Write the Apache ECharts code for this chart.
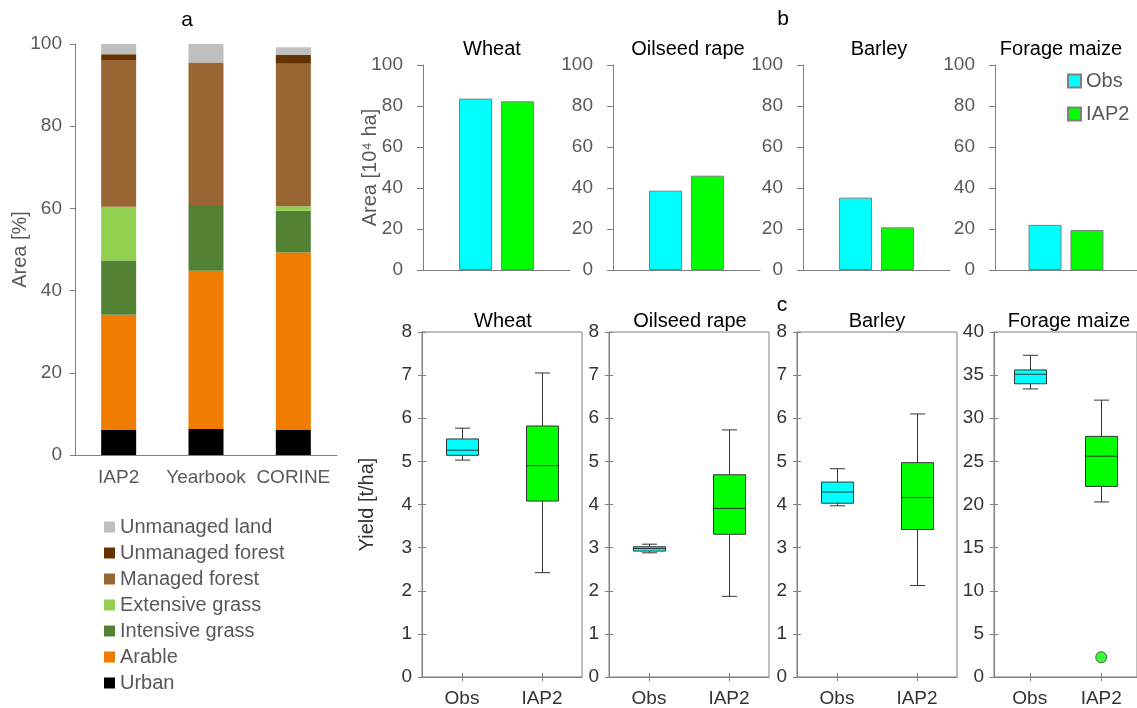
<!DOCTYPE html>
<html><head><meta charset="utf-8">
<script src="https://cdn.jsdelivr.net/npm/echarts@6/dist/echarts.min.js"></script>
<style>html,body{margin:0;padding:0;background:#fff}#c{width:1137px;height:708px}</style>
</head><body><div id="c"></div>
<script>
// ---- Panel a: land use shares (%) ----
const landCats = ['IAP2', 'Yearbook', 'CORINE'];
const urban = [6.1, 6.3, 6.1];
const arable = [28.0, 38.5, 43.2];
const intensiveGrass = [13.2, 16.0, 10.1];
const extensiveGrass = [13.1, 0, 1.1];
const managedForest = [35.7, 34.7, 34.7];
const unmanagedForest = [1.4, 0, 2.1];
const unmanagedLand = [2.5, 4.5, 1.9];

// ---- Panel b: crop area (10^4 ha) ----
const crops = ['Wheat', 'Oilseed rape', 'Barley', 'Forage maize'];
const areaObs = [83.6, 38.7, 35.3, 22.0];
const areaIAP2 = [82.3, 46.0, 20.8, 19.5];
const areaTicks = [0, 20, 40, 60, 80, 100];

// ---- Panel c: yield (t/ha) boxplots [min, Q1, median, Q3, max] ----
const yieldCats = ['Obs', 'IAP2'];
const yieldObs = [
  [5.03, 5.14, 5.26, 5.52, 5.77],
  [2.88, 2.92, 2.98, 3.02, 3.08],
  [3.97, 4.03, 4.29, 4.52, 4.83],
  [33.4, 34.0, 35.1, 35.6, 37.3]
];
const yieldIAP2 = [
  [2.42, 4.08, 4.90, 5.82, 7.05],
  [1.87, 3.31, 3.91, 4.69, 5.73],
  [2.12, 3.42, 4.16, 4.97, 6.10],
  [20.3, 22.1, 25.6, 27.9, 32.1]
];
const yieldMax = [8, 8, 8, 40];
const yieldInterval = [1, 1, 1, 5];
const maizeOutlierIAP2 = [2.29];

const FONT = 'Liberation Sans, Arial, sans-serif';
const GREY = '#808080';
const LABEL = '#595959';
const DARK = '#333333';
const CYAN = '#00FFFF', GREEN = '#00FF00';

const landSeries = [
  ['Urban', urban, '#000000'],
  ['Arable', arable, '#F07D02'],
  ['Intensive grass', intensiveGrass, '#548235'],
  ['Extensive grass', extensiveGrass, '#92D050'],
  ['Managed forest', managedForest, '#996633'],
  ['Unmanaged forest', unmanagedForest, '#663300'],
  ['Unmanaged land', unmanagedLand, '#BFBFBF']
];

const grid = [], xAxis = [], yAxis = [], series = [];

// Panel a
grid.push({left: 75, top: 44, width: 262, height: 411});
xAxis.push({gridIndex: 0, type: 'category', data: landCats,
  axisLine: {lineStyle: {color: GREY}}, axisTick: {show: false},
  axisLabel: {interval: 0, color: LABEL, fontSize: 19, margin: 13, fontFamily: FONT}});
yAxis.push({gridIndex: 0, type: 'value', min: 0, max: 100, interval: 20,
  name: 'Area [%]', nameLocation: 'middle', nameGap: 45, nameMoveOverlap: false,
  nameTextStyle: {fontSize: 20, color: LABEL, fontFamily: FONT},
  axisLine: {show: true, lineStyle: {color: GREY}},
  axisTick: {show: true, length: 5, lineStyle: {color: GREY}},
  axisLabel: {color: LABEL, fontSize: 19, margin: 13, fontFamily: FONT},
  splitLine: {show: false}});
landSeries.forEach(([name, data, color]) => {
  series.push({type: 'bar', name, stack: 'land', xAxisIndex: 0, yAxisIndex: 0,
    barWidth: 35, data, itemStyle: {color}, emphasis: {disabled: true}});
});

// Panel b
const bLeft = [423, 613, 803, 995];
crops.forEach((c, i) => {
  const gi = grid.length;
  grid.push({left: bLeft[i], top: 65, width: 147, height: 205});
  xAxis.push({gridIndex: gi, type: 'category', data: [''],
    axisLine: {lineStyle: {color: GREY}}, axisTick: {show: false}, axisLabel: {show: false}});
  yAxis.push({gridIndex: gi, type: 'value', min: areaTicks[0], max: areaTicks[areaTicks.length - 1], interval: 20,
    name: i === 0 ? 'Area [10\u2074 ha]' : '', nameLocation: 'middle', nameGap: 43, nameMoveOverlap: false,
    nameTextStyle: {fontSize: 20, color: LABEL, fontFamily: FONT},
    axisLine: {show: true, lineStyle: {color: GREY}},
    axisTick: {show: true, length: 6, lineStyle: {color: GREY}},
    axisLabel: {color: LABEL, fontSize: 19, margin: 20, fontFamily: FONT},
    splitLine: {show: false}});
  series.push({type: 'bar', name: 'Obs', xAxisIndex: gi, yAxisIndex: gi, barWidth: 33, barGap: '27%',
    data: [areaObs[i]], itemStyle: {color: CYAN, borderColor: '#7F7F7F', borderWidth: 1}});
  series.push({type: 'bar', name: 'IAP2', xAxisIndex: gi, yAxisIndex: gi, barWidth: 33, barGap: '27%',
    data: [areaIAP2[i]], itemStyle: {color: GREEN, borderColor: '#7F7F7F', borderWidth: 1}});
});

// Panel c
const cLeft = [422, 609, 797, 994];
const cWidth = [160, 160, 160, 150];
const cGridIdx = [];
crops.forEach((c, i) => {
  const gi = grid.length;
  cGridIdx.push(gi);
  grid.push({left: cLeft[i], top: 332, width: cWidth[i], height: 345,
    show: true, borderColor: GREY, borderWidth: 1, backgroundColor: 'transparent'});
  xAxis.push({gridIndex: gi, type: 'category', data: yieldCats,
    axisLine: {lineStyle: {color: GREY}},
    axisTick: {show: true, alignWithLabel: true, length: 4, lineStyle: {color: GREY}},
    axisLabel: {color: DARK, fontSize: 19, margin: 12, fontFamily: FONT}});
  yAxis.push({gridIndex: gi, type: 'value', min: 0, max: yieldMax[i], interval: yieldInterval[i],
    name: i === 0 ? 'Yield [t/ha]' : '', nameLocation: 'middle', nameGap: 45, nameMoveOverlap: false,
    nameTextStyle: {fontSize: 20, color: DARK, fontFamily: FONT},
    axisLine: {show: true, lineStyle: {color: GREY}},
    axisTick: {show: true, length: 4, lineStyle: {color: GREY}},
    axisLabel: {color: DARK, fontSize: 19, margin: 10, fontFamily: FONT},
    splitLine: {show: false}});
});
// inside tick duplicates (ticks cross the frame)
crops.forEach((c, i) => {
  const gi = cGridIdx[i];
  xAxis.push({gridIndex: gi, type: 'category', data: yieldCats, position: 'bottom',
    axisLine: {show: false}, axisLabel: {show: false},
    axisTick: {show: true, inside: true, alignWithLabel: true, length: 4, lineStyle: {color: GREY}}});
  yAxis.push({gridIndex: gi, type: 'value', min: 0, max: yieldMax[i], interval: yieldInterval[i], position: 'left',
    axisLine: {show: false}, axisLabel: {show: false}, splitLine: {show: false},
    axisTick: {show: true, inside: true, length: 4, lineStyle: {color: GREY}}});
});

function boxRender(color) {
  return function (params, api) {
    const x = api.value(0);
    const pMin = api.coord([x, api.value(1)]);
    const pQ1 = api.coord([x, api.value(2)]);
    const pMed = api.coord([x, api.value(3)]);
    const pQ3 = api.coord([x, api.value(4)]);
    const pMax = api.coord([x, api.value(5)]);
    const cx = Math.round(pMed[0]) + 0.5;
    const bw = 32, cw = 15;
    const ls = {stroke: DARK, lineWidth: 1};
    return {type: 'group', children: [
      {type: 'line', shape: {x1: cx, y1: pMax[1], x2: cx, y2: pQ3[1]}, style: ls},
      {type: 'line', shape: {x1: cx, y1: pQ1[1], x2: cx, y2: pMin[1]}, style: ls},
      {type: 'line', shape: {x1: cx - cw / 2, y1: pMax[1], x2: cx + cw / 2, y2: pMax[1]}, style: ls},
      {type: 'line', shape: {x1: cx - cw / 2, y1: pMin[1], x2: cx + cw / 2, y2: pMin[1]}, style: ls},
      {type: 'rect', shape: {x: cx - bw / 2, y: pQ3[1], width: bw, height: pQ1[1] - pQ3[1]},
        style: {fill: color, stroke: DARK, lineWidth: 1}},
      {type: 'line', shape: {x1: cx - bw / 2, y1: pMed[1], x2: cx + bw / 2, y2: pMed[1]}, style: ls}
    ]};
  };
}

crops.forEach((c, i) => {
  const gi = cGridIdx[i];
  series.push({type: 'custom', name: c + ' Obs yield', xAxisIndex: gi, yAxisIndex: gi,
    renderItem: boxRender(CYAN), encode: {x: 0, y: [1, 2, 3, 4, 5]},
    data: [[0].concat(yieldObs[i])], silent: true});
  series.push({type: 'custom', name: c + ' IAP2 yield', xAxisIndex: gi, yAxisIndex: gi,
    renderItem: boxRender(GREEN), encode: {x: 0, y: [1, 2, 3, 4, 5]},
    data: [[1].concat(yieldIAP2[i])], silent: true});
});
series.push({type: 'scatter', name: 'Forage maize outlier', xAxisIndex: cGridIdx[3], yAxisIndex: cGridIdx[3],
  data: maizeOutlierIAP2.map(v => [1, v]), symbolSize: 11,
  itemStyle: {color: GREEN, borderColor: DARK, borderWidth: 1}, silent: true});

function txt(text, x, y, size, color) {
  return {type: 'text', x, y, silent: true,
    style: {text, font: size + 'px ' + FONT, fill: color || '#000',
      align: 'center', textAlign: 'center', verticalAlign: 'middle', textVerticalAlign: 'middle'}};
}
const graphic = [
  txt('a', 187, 20, 21), txt('b', 783, 19, 21), txt('c', 782, 305, 21)
];
const bTitleX = [492, 688, 879, 1061];
const cTitleX = [503, 690, 877, 1069];
crops.forEach((c, i) => {
  graphic.push(txt(c, bTitleX[i], 49, 20));
  graphic.push(txt(c, cTitleX[i], 321, 20));
});

const option = {
  animation: false,
  textStyle: {fontFamily: FONT},
  grid, xAxis, yAxis, series, graphic,
  legend: [
    {data: landSeries.map(s => s[0]).reverse(), orient: 'vertical', left: 99, top: 512,
      itemWidth: 11, itemHeight: 11, itemGap: 6, icon: 'rect', selectedMode: false,
      textStyle: {fontSize: 20, color: LABEL, fontFamily: FONT}},
    {data: ['Obs', 'IAP2'], orient: 'vertical', left: 1062, top: 66,
      itemWidth: 13, itemHeight: 13, itemGap: 13, icon: 'rect', selectedMode: false,
      textStyle: {fontSize: 20, color: LABEL, fontFamily: FONT}}
  ]
};
const chart = echarts.init(document.getElementById('c'), null, {renderer: 'canvas'});
chart.setOption(option);
</script></body></html>
